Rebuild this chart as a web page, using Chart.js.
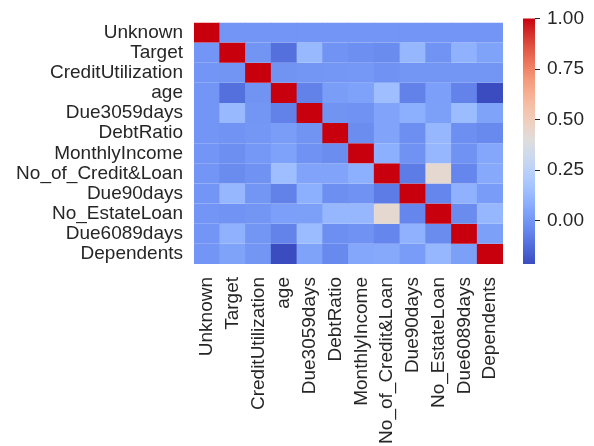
<!DOCTYPE html>
<html>
<head>
<meta charset="utf-8">
<script src="https://cdn.jsdelivr.net/npm/chart.js@4.4.0/dist/chart.umd.min.js"></script>
<style>
    body { margin: 0; background: #fff; }
    #wrap { position: relative; width: 594px; height: 446px; overflow: hidden; }
    #heat { position: absolute; left: 0; top: 0; }
    #cbar { position: absolute; left: 523px; top: 0; }
</style>
</head>
<body>
<div id="wrap">
    <canvas id="heat" width="594" height="446"></canvas>
    <canvas id="cbar" width="71" height="446"></canvas>
</div>
<script>
// feature names (rows top->bottom, columns left->right)
var features = ["Unknown", "Target", "CreditUtilization", "age", "Due3059days", "DebtRatio",
    "MonthlyIncome", "No_of_Credit&Loan", "Due90days", "No_EstateLoan", "Due6089days", "Dependents"];

// correlation matrix
var corr = [
    [1.00, 0.00, 0.00, 0.00, 0.00, 0.00, 0.00, 0.00, 0.00, 0.00, 0.00, 0.00],
    [0.00, 1.00, -0.002, -0.115, 0.13, -0.008, -0.02, -0.03, 0.12, -0.007, 0.10, 0.046],
    [0.00, -0.002, 1.00, -0.006, -0.001, 0.004, 0.007, -0.011, -0.001, -0.001, 0.001, 0.001],
    [0.00, -0.115, -0.006, 1.00, -0.06, 0.024, 0.037, 0.148, -0.06, 0.033, -0.057, -0.213],
    [0.00, 0.13, -0.001, -0.06, 1.00, -0.006, -0.01, 0.05, 0.09, 0.03, 0.14, 0.045],
    [0.00, -0.008, 0.004, 0.024, -0.006, 1.00, -0.028, 0.05, -0.02, 0.12, -0.02, -0.04],
    [0.00, -0.02, 0.007, 0.037, -0.01, -0.028, 1.00, 0.09, -0.012, 0.12, -0.01, 0.06],
    [0.00, -0.03, -0.011, 0.148, 0.05, 0.05, 0.09, 1.00, -0.08, 0.43, -0.05, 0.065],
    [0.00, 0.12, -0.001, -0.06, 0.09, -0.02, -0.012, -0.08, 1.00, -0.05, 0.10, 0.02],
    [0.00, -0.007, -0.001, 0.033, 0.03, 0.12, 0.12, 0.43, -0.05, 1.00, -0.03, 0.12],
    [0.00, 0.10, 0.001, -0.057, 0.14, -0.02, -0.01, -0.05, 0.10, -0.03, 1.00, 0.03],
    [0.00, 0.046, 0.001, -0.213, 0.045, -0.04, 0.06, 0.065, 0.02, 0.12, 0.03, 1.00]
];

var cbarTicks = [0, 0.25, 0.5, 0.75, 1];

var vmax = 1;
var vmin = Math.min.apply(null, corr.map(function (r) { return Math.min.apply(null, r); }));

var textColor = "#262626";
Chart.defaults.font.family = "'Liberation Sans', Arial, sans-serif";
Chart.defaults.font.size = 19;
Chart.defaults.color = textColor;

// coolwarm-like colormap stops (red end tuned to the picture)
var coolwarm = [
    [0.0, 59, 76, 192], [0.0625, 77, 104, 215], [0.125, 98, 130, 234], [0.1875, 119, 154, 247],
    [0.25, 141, 176, 254], [0.3125, 163, 194, 255], [0.375, 184, 208, 249], [0.4375, 204, 217, 238],
    [0.5, 221, 221, 221], [0.5625, 236, 211, 197], [0.625, 245, 196, 173], [0.6875, 247, 177, 148],
    [0.75, 244, 154, 123], [0.8125, 238, 122, 95], [0.875, 226, 88, 70], [0.9375, 212, 48, 44],
    [1.0, 200, 0, 14]
];

function cmap(t) {
    t = Math.max(0, Math.min(1, t));
    for (var i = 1; i < coolwarm.length; i++) {
        if (t <= coolwarm[i][0]) {
            var a = coolwarm[i - 1], b = coolwarm[i];
            var f = (t - a[0]) / (b[0] - a[0]);
            return "rgb(" + [1, 2, 3].map(function (k) { return Math.round(a[k] + (b[k] - a[k]) * f); }).join(",") + ")";
        }
    }
    return "rgb(200,0,14)";
}

function norm(v) { return (v - vmin) / (vmax - vmin); }

// heatmap: one floating-bar dataset per row
var heatSets = features.map(function (name, i) {
    return {
        label: name,
        data: features.map(function () { return [i, i + 1]; }),
        backgroundColor: corr[i].map(function (v) { return cmap(norm(v)); }),
        borderWidth: 0,
        barPercentage: 1.03,
        categoryPercentage: 1,
        grouped: false
    };
});

new Chart(document.getElementById("heat"), {
    type: "bar",
    data: { labels: features, datasets: heatSets },
    options: {
        responsive: false,
        animation: false,
        layout: { padding: { top: 12, right: 91, left: 0, bottom: 0 } },
        plugins: { legend: { display: false }, tooltip: { enabled: false } },
        scales: {
            x: {
                type: "category",
                grid: { display: false, drawTicks: false },
                border: { display: false },
                ticks: { autoSkip: false, minRotation: 90, maxRotation: 90, padding: 13 },
                afterFit: function (s) { s.height = 182; }
            },
            y: {
                type: "linear",
                min: 0,
                max: features.length,
                reverse: true,
                grid: { display: false, drawTicks: false },
                border: { display: false },
                afterBuildTicks: function (s) {
                    s.ticks = features.map(function (f, i) { return { value: i + 0.5 }; });
                },
                ticks: {
                    autoSkip: false,
                    padding: 11,
                    callback: function (v, i) { return features[i]; }
                },
                afterFit: function (s) { s.width = 194; }
            }
        }
    }
});

// colour bar
new Chart(document.getElementById("cbar"), {
    type: "bar",
    data: {
        labels: [""],
        datasets: [{
            data: [[vmin, vmax]],
            borderWidth: 0,
            barPercentage: 1,
            categoryPercentage: 1,
            backgroundColor: function (c) {
                var ch = c.chart;
                if (!ch.chartArea) return "rgba(0,0,0,0)";
                var ys = ch.scales.y;
                var g = ch.ctx.createLinearGradient(0, ys.getPixelForValue(vmin), 0, ys.getPixelForValue(vmax));
                coolwarm.forEach(function (s) {
                    g.addColorStop(s[0], "rgb(" + s[1] + "," + s[2] + "," + s[3] + ")");
                });
                return g;
            }
        }]
    },
    options: {
        responsive: false,
        animation: false,
        layout: { padding: { top: 12, bottom: 182, left: 0, right: 0 } },
        plugins: { legend: { display: false }, tooltip: { enabled: false } },
        scales: {
            x: { display: false },
            y: {
                position: "right",
                min: vmin,
                max: vmax,
                border: { display: false },
                grid: { drawOnChartArea: false, drawTicks: true, tickLength: 5, color: textColor },
                afterBuildTicks: function (s) {
                    s.ticks = cbarTicks.map(function (v) { return { value: v }; });
                },
                ticks: {
                    padding: 7,
                    callback: function (v) { return v.toFixed(2); }
                },
                afterFit: function (s) { s.width = 59; }
            }
        }
    }
});
</script>
</body>
</html>
